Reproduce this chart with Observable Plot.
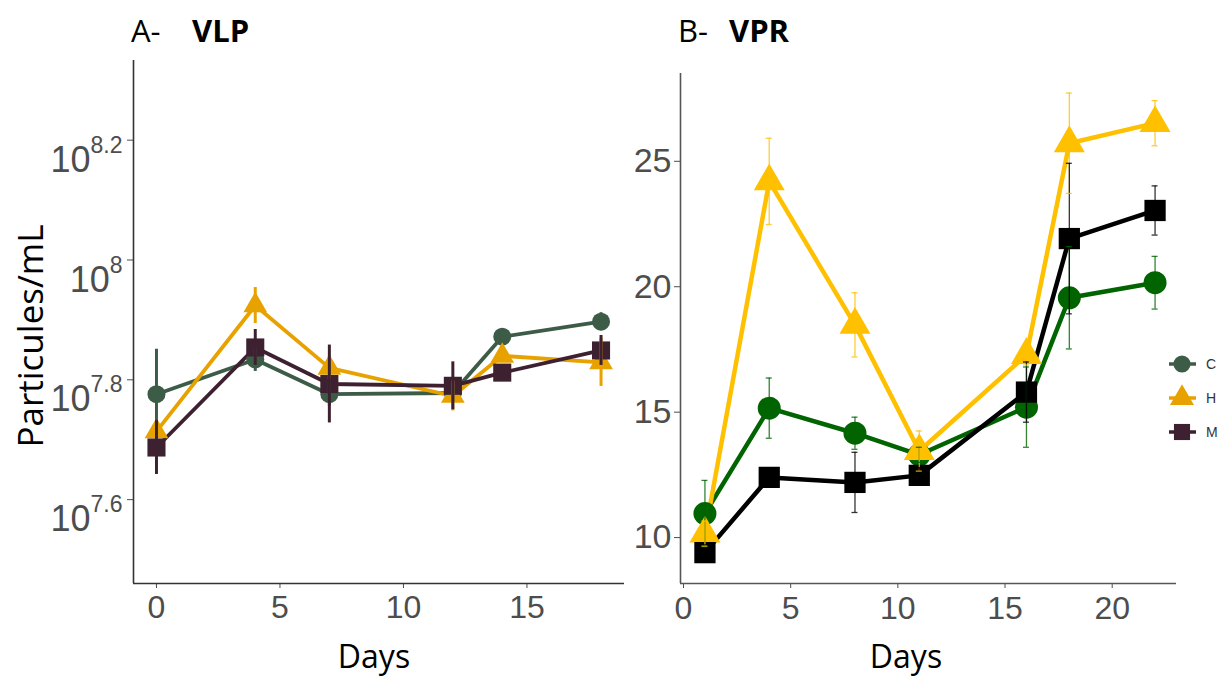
<!DOCTYPE html>
<html><head><meta charset="utf-8">
<script src="https://cdn.jsdelivr.net/npm/d3@7"></script>
<script src="https://cdn.jsdelivr.net/npm/@observablehq/plot@0.6"></script>
<style>
body{margin:0;background:#fff}
#root{position:relative;width:1231px;height:679px;overflow:hidden;background:#fff}
.panel{position:absolute;top:0}
</style>
</head><body><div id="root"></div>
<script>
// ---------- data ----------
const groups = ["C", "H", "M"];

// Panel A: VLP, log10(particles/mL)
const daysA = [0, 4, 7, 12, 14, 18];
const vlpC = [7.776, 7.834, 7.776, 7.778, 7.872, 7.897];
const vlpH = [7.714, 7.924, 7.820, 7.773, 7.840, 7.829];
const vlpM = [7.687, 7.854, 7.793, 7.790, 7.812, 7.849];
const vlpCErr = [0.075, 0.020, 0.020, 0.015, 0.010, 0.015];
const vlpHErr = [0.010, 0.030, 0.020, 0.025, 0.010, 0.040];
const vlpMErr = [0.045, 0.030, 0.065, 0.040, 0.010, 0.025];
const ticksA = [7.6, 7.8, 8, 8.2];
const xTicksA = [0, 5, 10, 15];

// Panel B: VPR
const daysB = [1, 4, 8, 11, 16, 18, 22];
const vprC = [10.96, 15.16, 14.16, 13.30, 15.20, 19.56, 20.16];
const vprH = [10.16, 24.20, 18.48, 13.45, 17.28, 25.72, 26.52];
const vprM = [9.40, 12.40, 12.20, 12.48, 15.80, 21.92, 23.04];
const vprCErr = [1.32, 1.20, 0.64, 0.30, 1.60, 2.04, 1.05];
const vprHErr = [0.50, 1.72, 1.28, 0.80, 0.40, 2.00, 0.90];
const vprMErr = [0.30, 0.35, 1.20, 0.30, 1.20, 3.00, 0.98];
const ticksB = [10, 15, 20, 25];
const xTicksB = [0, 5, 10, 15, 20];

const colorsA = ["#3d5c48", "#e8a200", "#3e2131"];
const colorsB = ["#006400", "#ffc000", "#000000"];
const symbols = ["circle", "triangle", "square"];

// ---------- helpers ----------
function tidy(days, vals, errs) {
  return groups.flatMap((g, gi) => days.map((d, i) => ({day: d, group: g, v: vals[gi][i], e: errs[gi][i]})));
}
const rowsA = tidy(daysA, [vlpC, vlpH, vlpM], [vlpCErr, vlpHErr, vlpMErr]);
const rowsB = tidy(daysB, [vprC, vprH, vprM], [vprCErr, vprHErr, vprMErr]);

const root = document.getElementById("root");
const tickFont = "'Liberation Sans', Arial, sans-serif";

// ---------- Panel A ----------
const xDomA = [-0.93, 18.95], yDomA = [7.46, 8.333];
const rA = {C: 9, H: 8.8, M: 10.2};
const plotA = Plot.plot({
  width: 640, height: 679,
  marginLeft: 133, marginRight: 16, marginTop: 60, marginBottom: 96,
  x: {domain: xDomA, label: null},
  y: {domain: yDomA, label: null},
  color: {domain: groups, range: colorsA},
  style: {background: "transparent", color: "#4d4d4d", fontFamily: tickFont, overflow: "visible"},
  marks: [
    Plot.axisX({ticks: xTicksA, tickSize: 5, tickPadding: 7, fontSize: 32, label: null, tickFormat: d => String(d)}),
    Plot.axisY({ticks: ticksA, tickSize: 6, tickPadding: 5, fontSize: 36, label: null, tickFormat: d => "10^" + d}),
    Plot.ruleX([xDomA[0]], {stroke: "#333", strokeWidth: 1.6}),
    Plot.ruleY([yDomA[0]], {stroke: "#333", strokeWidth: 1.6}),
    Plot.line(rowsA, {x: "day", y: "v", z: "group", stroke: "group", strokeWidth: 3.8}),
    ...groups.map((g, gi) => Plot.dot(rowsA.filter(d => d.group === g), {x: "day", y: "v", fill: "group", symbol: () => symbols[gi], r: rA[g]})),
    Plot.ruleX(rowsA, {x: "day", y1: d => d.v - d.e, y2: d => d.v + d.e, stroke: "group", strokeWidth: 3})
  ]
});
plotA.classList.add("panel");
plotA.style.left = "0px";
root.appendChild(plotA);

// superscript exponents on A's y tick labels
d3.select(plotA).selectAll('g[aria-label="y-axis tick label"] text').each(function () {
  const s = d3.select(this);
  const [b, e] = s.text().split("^");
  s.text("");
  s.attr("dy", 20);
  s.append("tspan").text(b);
  s.append("tspan").attr("dy", -19).attr("font-size", 23).text(e);
});

// ---------- Panel B ----------
const xDomB = [-0.14, 23.0], yDomB = [8.17, 28.5];
const rB = {C: 11.5, H: 11.5, M: 12};
const plotB = Plot.plot({
  width: 611, height: 679,
  marginLeft: 60, marginRight: 55, marginTop: 73, marginBottom: 96,
  x: {domain: xDomB, label: null},
  y: {domain: yDomB, label: null},
  color: {domain: groups, range: colorsB},
  style: {background: "transparent", color: "#4d4d4d", fontFamily: tickFont, overflow: "visible"},
  marks: [
    Plot.axisX({ticks: xTicksB, tickSize: 5, tickPadding: 8, fontSize: 32, label: null, tickFormat: d => String(d)}),
    Plot.axisY({ticks: ticksB, tickSize: 6, tickPadding: 3, fontSize: 34, label: null, tickFormat: d => String(d)}),
    Plot.ruleX([xDomB[0]], {stroke: "#555", strokeWidth: 1.6}),
    Plot.ruleY([yDomB[0]], {stroke: "#555", strokeWidth: 1.6}),
    Plot.line(rowsB, {x: "day", y: "v", z: "group", stroke: "group", strokeWidth: 4.5}),
    ...groups.map((g, gi) => Plot.dot(rowsB.filter(d => d.group === g), {x: "day", y: "v", fill: "group", symbol: () => symbols[gi], r: rB[g]})),
    Plot.ruleX(rowsB, {x: "day", y1: d => d.v - d.e, y2: d => d.v + d.e, stroke: "group", strokeWidth: 1.3, strokeOpacity: 0.8}),
    Plot.ruleY(rowsB, {y: d => d.v + d.e, x1: d => d.day - 0.14, x2: d => d.day + 0.14, stroke: "group", strokeWidth: 1.3, strokeOpacity: 0.8}),
    Plot.ruleY(rowsB, {y: d => d.v - d.e, x1: d => d.day - 0.14, x2: d => d.day + 0.14, stroke: "group", strokeWidth: 1.3, strokeOpacity: 0.8})
  ]
});
plotB.classList.add("panel");
plotB.style.left = "620px";
root.appendChild(plotB);

// ---------- titles, axis labels, legend ----------
const ov = d3.select(root).append("svg")
  .attr("width", 1231).attr("height", 679)
  .style("position", "absolute").style("left", 0).style("top", 0).style("pointer-events", "none");
const titleFont = "'Open Sans', 'Noto Sans', sans-serif";

ov.append("text").attr("x", 131).attr("y", 42).attr("font-family", titleFont).attr("font-size", 31).attr("fill", "#000").text("A-");
ov.append("text").attr("x", 192).attr("y", 42).attr("font-family", titleFont).attr("font-size", 31).attr("font-weight", "bold").attr("fill", "#000").text("VLP");
ov.append("text").attr("x", 678).attr("y", 42).attr("font-family", titleFont).attr("font-size", 31).attr("fill", "#000").text("B-");
ov.append("text").attr("x", 729).attr("y", 42).attr("font-family", titleFont).attr("font-size", 31).attr("font-weight", "bold").attr("fill", "#000").text("VPR");

ov.append("text").attr("transform", "translate(43,336) rotate(-90)").attr("text-anchor", "middle")
  .attr("font-family", titleFont).attr("font-size", 35).attr("fill", "#000").text("Particules/mL");
ov.append("text").attr("x", 374).attr("y", 668).attr("text-anchor", "middle")
  .attr("font-family", titleFont).attr("font-size", 32).attr("fill", "#000").text("Days");
ov.append("text").attr("x", 906).attr("y", 668).attr("text-anchor", "middle")
  .attr("font-family", titleFont).attr("font-size", 32).attr("fill", "#000").text("Days");

// legend
const legendY = [364, 398, 432];
const legendSym = [d3.symbolCircle, d3.symbolTriangle, d3.symbolSquare];
const legendSize = [230, 250, 260];
groups.forEach((g, i) => {
  const gg = ov.append("g").attr("transform", `translate(1182,${legendY[i]})`);
  gg.append("line").attr("x1", -13).attr("x2", 14).attr("stroke", colorsA[i]).attr("stroke-width", 3.5);
  gg.append("path").attr("d", d3.symbol(legendSym[i], legendSize[i])()).attr("fill", colorsA[i]);
  gg.append("text").attr("x", 24).attr("y", 5).attr("font-family", tickFont).attr("font-size", 14).attr("fill", "#333").text(g);
});
</script>
</body></html>
